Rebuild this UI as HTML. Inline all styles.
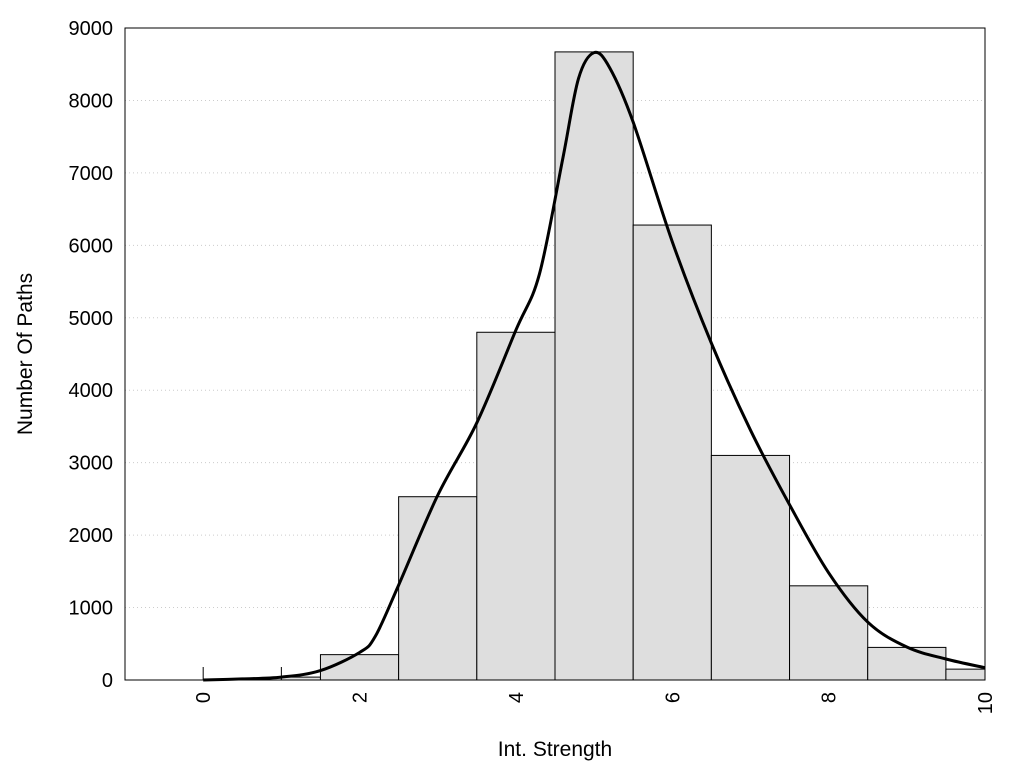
<!DOCTYPE html>
<html><head><meta charset="utf-8"><style>
body{margin:0;background:#fff}
text{font-family:"Liberation Sans",sans-serif;fill:#000}
</style></head><body>
<svg id="chart" width="1024" height="768" xmlns="http://www.w3.org/2000/svg">
<g id="grid"></g>
<g id="bars"></g>
<path id="curve" fill="none" stroke="#000" stroke-width="3"/>
<rect x="125" y="28" width="860" height="652" fill="none" stroke="#000" stroke-width="1"/>
<g id="axes"></g>
<text x="555" y="756" font-size="21" text-anchor="middle">Int. Strength</text>
<text transform="translate(32,354) rotate(-90)" font-size="21" text-anchor="middle">Number Of Paths</text>
</svg>
<script>
const binStarts=[1,1.5,2.5,3.5,4.5,5.5,6.5,7.5,8.5,9.5];
const binEnds=[1.5,2.5,3.5,4.5,5.5,6.5,7.5,8.5,9.5,10];
const counts=[40,350,2530,4800,8670,6280,3100,1300,450,150];
const curveX=[0,0.5,1,1.5,2,2.2,2.5,3,3.5,4,4.3,4.6,4.8,5,5.2,5.5,6,6.5,7,7.5,8,8.5,9,9.5,10];
const curveY=[0,15,40,130,380,600,1310,2550,3550,4830,5600,7200,8300,8660,8450,7700,6050,4650,3450,2420,1480,800,455,290,170];
const yTicks=[0,1000,2000,3000,4000,5000,6000,7000,8000,9000];
const xTicks=[0,2,4,6,8,10];
const NS="http://www.w3.org/2000/svg";
const X=v=>125+(v+1)*860/11;
const Y=v=>680-v*652/9000;
function mk(t,a,p){const e=document.createElementNS(NS,t);for(const k in a)e.setAttribute(k,a[k]);p.appendChild(e);return e;}
const grid=document.getElementById('grid'),bars=document.getElementById('bars'),axes=document.getElementById('axes');
yTicks.forEach(v=>{
 if(v>0){const g=mk('line',{x1:125,x2:985,y1:Y(v),y2:Y(v),stroke:'#ccc','stroke-dasharray':'1,3'},grid);
 
 }
 const t=mk('text',{x:113,y:Y(v)+7,'font-size':20,'text-anchor':'end'},axes);t.textContent=v;
 
 
});
xTicks.forEach(v=>{
 const t=mk('text',{transform:`translate(${X(v)+7},692) rotate(-90)`,'font-size':20,'text-anchor':'end'},axes);t.textContent=v;
 
 
});
[0,1].forEach(v=>{const l=mk('line',{x1:X(v),x2:X(v),y1:680,y2:667,stroke:'#000'},bars);
 
 });
counts.forEach((c,i)=>{
 const r=mk('rect',{x:X(binStarts[i]),y:Y(c),width:X(binEnds[i])-X(binStarts[i]),height:680-Y(c),fill:'#dedede',stroke:'#000','stroke-width':1},bars);
 
 
});
// smooth curve via Catmull-Rom
const pts=curveX.map((x,i)=>[X(x),Y(curveY[i])]);
let d=`M${pts[0][0]},${pts[0][1]}`;
for(let i=0;i<pts.length-1;i++){
 const p0=pts[Math.max(i-1,0)],p1=pts[i],p2=pts[i+1],p3=pts[Math.min(i+2,pts.length-1)];
 d+=` C${p1[0]+(p2[0]-p0[0])/6},${p1[1]+(p2[1]-p0[1])/6} ${p2[0]-(p3[0]-p1[0])/6},${p2[1]-(p3[1]-p1[1])/6} ${p2[0]},${p2[1]}`;
}
document.getElementById('curve').setAttribute('d',d);
</script>
</body></html>
